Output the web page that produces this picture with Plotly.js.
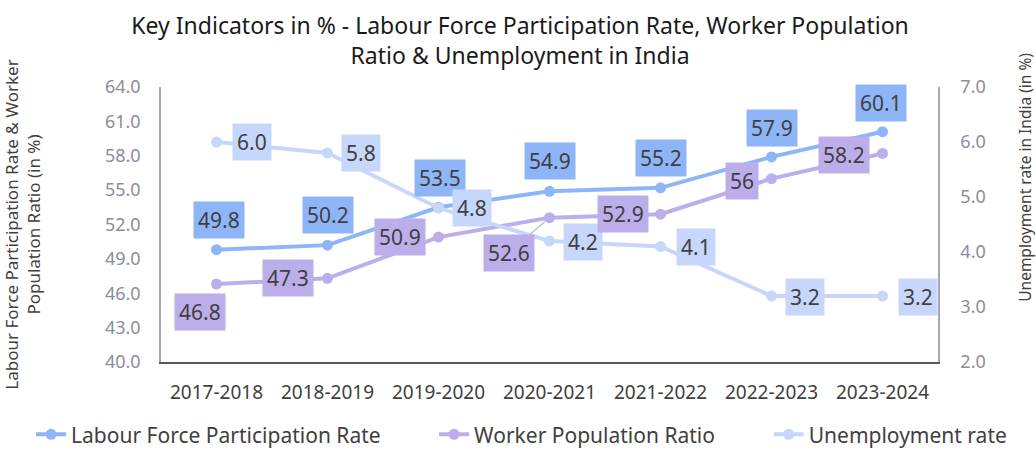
<!DOCTYPE html>
<html><head><meta charset="utf-8">
<script src="https://cdn.plot.ly/plotly-3.0.1.min.js"></script>
<style>html,body{margin:0;padding:0;background:#fff}#chart{width:1036px;height:450px}</style>
</head><body><div id="chart"></div>
<script>
const years = ['2017-2018','2018-2019','2019-2020','2020-2021','2021-2022','2022-2023','2023-2024'];
const lfpr = [49.8, 50.2, 53.5, 54.9, 55.2, 57.9, 60.1];
const wpr = [46.8, 47.3, 50.9, 52.6, 52.9, 56, 58.2];
const unemp = [6.0, 5.8, 4.8, 4.2, 4.1, 3.2, 3.2];
const lfprText = lfpr.map(v => String(v));
const wprText = wpr.map(v => String(v));
const unempText = unemp.map(v => v.toFixed(1));

// label placement (pixel offsets from the point)
const lfprShift = [[2,30],[0,30],[1,29],[0,30],[0,30],[0,29],[-2,29]];
const wprShift = [[-17,-28],[-40,0],[-39,0],[-41,-35],[-38,0],[-30,-2],[-39,-2]];
const unempShift = [[35,0],[33,0],[33,0],[33,-1],[35,0],[33,-1],[35,-1]];

const C_LFPR = '#8fb5f9';
const C_WPR = '#bcaeea';
const C_UR = '#c7d7fb';
const FONT = 'Noto Sans, Open Sans, sans-serif';
const TXT = '#404040';

const traces = [
  {x: years, y: lfpr, name: 'Labour Force Participation Rate', type: 'scatter', mode: 'lines+markers',
   line: {color: C_LFPR, width: 4}, marker: {color: C_LFPR, size: 11}, yaxis: 'y', legend: 'legend'},
  {x: years, y: wpr, name: 'Worker Population Ratio', type: 'scatter', mode: 'lines+markers',
   line: {color: C_WPR, width: 4}, marker: {color: C_WPR, size: 11}, yaxis: 'y', legend: 'legend2'},
  {x: years, y: unemp, name: 'Unemployment rate', type: 'scatter', mode: 'lines+markers',
   line: {color: C_UR, width: 4}, marker: {color: C_UR, size: 11}, yaxis: 'y2', legend: 'legend3'}
];

const annotations = [];
function addLabels(vals, texts, shifts, color, yref) {
  vals.forEach((v, i) => {
    const a = {x: years[i], y: v, xref: 'x', yref: yref, text: texts[i], showarrow: false,
      xshift: shifts[i][0], yshift: shifts[i][1], bgcolor: color, borderpad: 4,
      font: {family: FONT, size: 21, color: TXT}};
    annotations.push(a);
  });
}
addLabels(lfpr, lfprText, lfprShift, C_LFPR, 'y');
addLabels(unemp, unempText, unempShift, C_UR, 'y2');
addLabels(wpr, wprText, wprShift, C_WPR, 'y');
// leader line for the 2020-2021 WPR label
const lead = annotations[annotations.length - 4];
lead.showarrow = true; lead.ax = lead.xshift; lead.ay = -lead.yshift;
lead.xshift = 0; lead.yshift = 0; lead.arrowhead = 0; lead.arrowwidth = 1.2;
lead.arrowcolor = '#b0b8b8'; lead.standoff = 6;

// right axis title (placed as in the reference, above centre)
annotations.push({text: 'Unemployment rate in India (in %)', xref: 'paper', yref: 'paper',
  x: 1.112, y: 0.67, xanchor: 'center', yanchor: 'middle', textangle: -90, showarrow: false,
  font: {family: FONT, size: 15.5, color: TXT}});

const legendBase = {orientation: 'h', yref: 'container', yanchor: 'middle', y: 0.034,
  xref: 'container', xanchor: 'left',
  font: {family: FONT, size: 21, color: TXT}, bgcolor: 'rgba(0,0,0,0)', itemwidth: 30};

const layout = {
  width: 1036, height: 450,
  margin: {l: 161, r: 98, t: 87, b: 88},
  paper_bgcolor: '#ffffff', plot_bgcolor: '#ffffff',
  font: {family: FONT, color: TXT},
  title: {text: 'Key Indicators in % - Labour Force Participation Rate, Worker Population<br>Ratio & Unemployment in India',
    xref: 'container', x: 0.502, xanchor: 'center', yref: 'container', y: 0.925, yanchor: 'top',
    font: {family: FONT, size: 23, color: '#1a1a1a'}},
  xaxis: {type: 'category', range: [-0.5, 6.5], showline: true, linecolor: '#595959', linewidth: 1.5,
    showgrid: false, zeroline: false, ticks: '', ticklabelstandoff: 12,
    tickfont: {family: FONT, size: 19, color: TXT}},
  yaxis: {range: [40, 64], dtick: 3, tick0: 40, tickformat: '.1f', showline: true, linecolor: '#a6a6b0',
    linewidth: 1.5, showgrid: false, zeroline: false, ticks: '', ticklabelstandoff: 15,
    tickfont: {family: FONT, size: 18, color: '#8c8c9c'},
    title: {text: 'Labour Force Participation Rate & Worker<br>Population Ratio (in %)', standoff: 60,
      font: {family: FONT, size: 17, color: TXT}}},
  yaxis2: {range: [2, 7], dtick: 1, tick0: 2, tickformat: '.1f', overlaying: 'y', side: 'right',
    showline: true, linecolor: '#a6a6b0', linewidth: 1.5, showgrid: false, zeroline: false, ticks: '',
    ticklabelstandoff: 17, tickfont: {family: FONT, size: 18, color: '#8c8c9c'}},
  legend: Object.assign({}, legendBase, {x: 0.030}),
  legend2: Object.assign({}, legendBase, {x: 0.4190}),
  legend3: Object.assign({}, legendBase, {x: 0.7420}),
  showlegend: true,
  annotations: annotations
};

Plotly.newPlot('chart', traces, layout, {displayModeBar: false, responsive: false});
</script>
</body></html>
